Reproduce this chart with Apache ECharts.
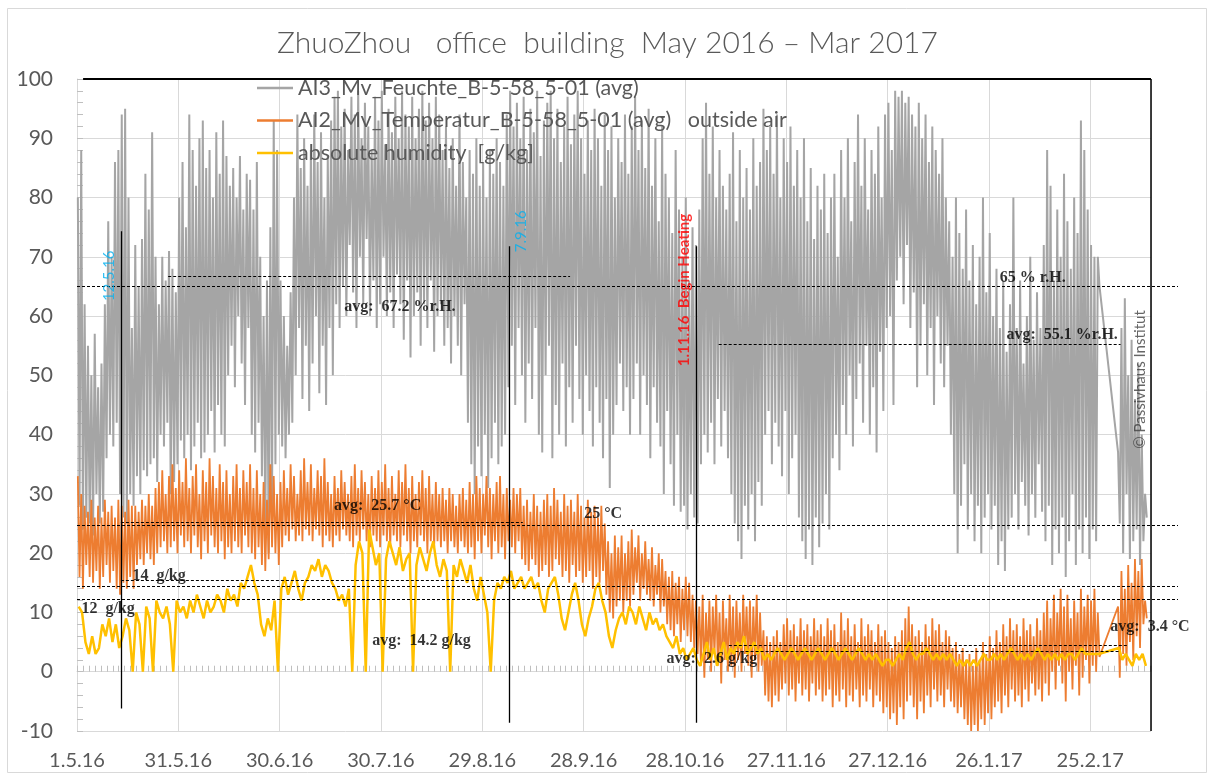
<!DOCTYPE html>
<html>
<head>
<meta charset="utf-8">
<script src="https://cdn.jsdelivr.net/npm/echarts/dist/echarts.min.js"></script>
<style>
  html, body { margin: 0; padding: 0; background: #fff; }
  #chart { width: 1215px; height: 780px; }
</style>
</head>
<body>
<div id="chart"></div>
<script>
// day 0 = 1.5.16, one hi / lo pair per day
var startDate = Date.UTC(2016, 4, 1);
var seriesNames = ['AI3_Mv_Feuchte_B-5-58_5-01 (avg)', 'AI2_Mv_Temperatur_B-5-58_5-01 (avg)   outside air', 'absolute humidity  [g/kg]'];

// relative humidity %
var rhHigh = [
  80,88,62,55,50,57,48,52,62,76,
  70,86,88,94,95,80,58,72,65,73,
  84,78,91,70,62,70,66,71,68,64,
  80,86,75,94,88,82,90,93,85,88,
  80,91,84,93,87,82,85,80,87,78,
  84,83,78,86,70,60,66,75,93,88,
  66,60,55,64,80,94,85,90,82,88,
  94,86,91,80,87,93,97,98,92,95,
  88,97,94,98,90,96,92,88,97,93,
  98,89,95,91,97,90,98,94,92,97,
  90,95,98,93,96,90,97,94,88,92,
  85,90,82,94,86,80,88,84,90,82,
  86,80,88,84,90,86,82,94,98,92,
  96,90,97,88,95,91,98,87,93,96,
  98,90,95,86,92,97,89,94,98,90,
  84,93,88,95,90,82,94,88,92,80,
  90,86,94,84,92,97,88,93,85,95,
  82,90,76,92,84,80,74,88,78,70,
  80,66,75,72,78,90,96,84,92,80,
  88,82,78,84,91,76,88,80,85,78,
  90,82,86,95,88,92,84,94,80,90,
  86,92,82,88,80,90,76,85,73,82,
  78,84,74,80,84,70,88,80,90,76,
  86,94,82,90,78,88,84,92,80,94,
  96,88,98,97,98,96,97,94,92,96,
  90,94,86,92,88,84,90,80,76,70,
  80,74,68,78,66,72,62,70,80,64,
  74,60,68,58,66,54,62,80,58,66,
  52,60,70,56,64,58,72,88,82,66,
  78,70,84,76,68,80,74,93,88,78,
  72,70,70,null,null,null,null,null,37,58,
  63,50,56,46,52,40,30
];
var rhLow = [
  28,24,26,25,23,30,25,27,36,40,
  38,42,30,26,25,30,28,33,30,34,
  33,35,36,32,40,38,42,30,32,35,
  39,36,40,34,38,42,36,37,40,44,
  37,45,40,38,50,55,48,60,52,45,
  58,40,37,42,33,24,20,28,35,40,
  38,36,40,42,50,58,46,55,44,52,
  60,47,55,45,58,50,62,58,65,60,
  72,64,58,70,62,73,60,66,58,62,
  70,60,64,58,67,62,56,66,53,60,
  64,55,62,58,66,54,60,62,55,58,
  52,60,55,50,62,42,35,30,38,33,
  40,31,36,42,35,38,40,48,55,45,
  58,50,42,52,46,58,40,37,50,55,
  36,45,40,52,38,48,42,55,46,40,
  50,44,38,48,42,36,46,31,40,45,
  52,44,48,40,46,52,40,50,45,36,
  48,42,38,30,44,35,28,40,27,28,
  24,30,26,25,35,40,37,42,35,46,
  38,44,36,30,25,22,19,28,24,30,
  22,32,28,40,44,35,42,38,33,44,
  30,36,40,26,22,19,24,18,26,21,
  25,30,24,36,40,34,45,40,50,38,
  46,52,42,55,40,48,37,54,44,58,
  60,45,66,70,62,72,58,64,48,55,
  62,50,58,45,60,52,48,55,40,30,
  20,28,35,24,30,22,28,20,26,30,
  24,28,18,22,17,24,26,30,24,32,
  28,23,30,26,35,27,22,28,18,24,
  20,26,16,22,30,18,24,20,26,19,
  24,22,65,null,null,null,null,null,25,20,
  30,19,22,24,18,22,26
];

// outside air temperature °C
var tHigh = [
  33,30,28,27,29,26,28,26,29,27,
  28,26,29,28,27,29,28,28,27,29,
  28,30,28,31,32,34,30,33,35,31,
  34,32,36,31,33,35,30,34,32,36,
  33,31,35,32,34,30,33,35,31,34,
  32,35,31,34,30,32,29,35,33,30,
  32,34,31,35,33,30,34,36,32,35,
  31,34,33,36,32,30,33,31,34,32,
  30,33,35,31,34,32,30,33,31,34,
  32,35,31,33,30,34,32,35,31,33,
  30,32,34,31,33,30,32,30,31,29,
  31,30,28,30,31,29,32,30,33,31,
  30,33,31,30,32,33,30,31,29,31,
  30,31,28,29,27,30,28,27,29,30,
  28,31,29,27,30,28,29,27,30,28,
  26,29,27,28,26,28,25,22,20,23,
  21,23,20,22,24,21,23,20,22,19,
  21,18,20,19,17,16,17,15,16,14,
  16,15,13,12,11,13,10,12,11,13,
  10,12,9,13,11,12,10,13,11,12,
  11,13,10,7,6,5,6,7,5,8,
  9,7,8,6,9,7,8,6,9,7,
  8,6,9,7,8,5,10,7,9,6,
  8,5,9,6,8,7,5,8,6,7,
  5,4,6,5,7,9,11,8,6,7,
  5,8,6,9,7,8,5,7,6,4,
  5,3,4,2,3,1,4,2,5,3,
  6,4,7,5,8,6,9,7,8,6,
  9,7,8,6,9,7,10,12,9,13,
  10,14,11,13,9,12,10,14,11,13,
  12,14,10,null,null,null,null,null,11,17,
  14,18,15,19,17,19,12
];
var tLow = [
  16,14,18,16,15,17,14,16,18,15,
  17,14,13,15,14,16,14,18,19,18,
  20,19,18,20,21,22,20,21,22,20,
  23,21,22,20,23,21,19,22,20,23,
  21,20,22,19,21,20,22,21,20,23,
  21,20,19,21,18,17,19,21,20,18,
  21,23,22,24,22,23,22,24,23,22,
  24,23,21,23,22,21,23,22,24,23,
  22,21,23,22,24,22,21,23,22,21,
  23,22,21,23,22,21,23,22,20,22,
  21,23,22,20,22,21,22,21,22,20,
  22,21,20,22,21,20,21,19,22,20,
  23,21,19,22,20,21,19,22,21,20,
  22,19,18,17,19,18,16,17,18,16,
  17,19,18,16,17,15,18,16,17,15,
  16,17,14,16,15,17,13,10,9,11,
  12,10,12,11,13,15,12,14,13,12,
  11,13,10,11,8,7,6,8,5,7,
  6,5,4,3,1,-1,2,0,3,1,
  -2,2,0,1,-1,2,0,3,1,-1,
  2,0,1,-4,-5,-6,-4,-5,-3,-2,
  -4,-3,-5,-2,-4,-3,-5,-2,-4,-3,
  -5,-4,-3,-6,-4,-5,-3,-6,-4,-5,
  -3,-6,-4,-5,-3,-6,-4,-5,-7,-6,
  -8,-7,-9,-6,-8,-5,-4,-6,-8,-5,
  -7,-4,-6,-3,-5,-4,-6,-3,-5,-6,
  -7,-6,-8,-9,-10,-9,-10,-8,-9,-7,
  -8,-6,-5,-7,-4,-6,-3,-5,-4,-6,
  -3,-5,-2,-4,-3,-5,-2,-4,0,-3,
  1,-2,-5,0,-3,1,-4,-1,2,-2,
  1,0,2.5,null,null,null,null,null,-1,3,
  1,5,2,6,4,8,9
];

// absolute humidity g/kg, one value per day
var absHum = [
  11,10,5,3,6,3,4,8,6,9,
  5,8,4,6,9,7,0,10,8,0,
  11,9,0,12,10,9,11,8,0,12,
  10,11,9,12,10,13,11,9,12,10,
  11,13,12,10,14,12,13,11,15,14,
  16,18,15,13,8,6,9,7,12,0,
  14,16,13,15,17,14,12,15,16,18,
  17,19,16,18,17,15,14,12,13,11,
  14,0,18,22,20,0,24,21,18,20,
  0,19,22,20,18,21,17,19,20,0,
  18,21,19,17,20,22,18,16,19,17,
  0,18,16,19,17,15,18,14,12,16,
  13,10,0,12,15,14,16,15,17,14,
  15,16,14,15,16,14,15,12,10,14,
  15,16,13,9,7,10,13,15,12,8,
  6,9,11,14,15,12,10,6,4,7,
  9,10,8,11,10,8,11,9,7,10,
  8,9,7,8,6,5,4,6,3,4,
  2,3,4,2,1,3,5,2,4,1,
  3,5,2,4,3,5,4,6,3,4,
  5,3,4,2,3,2,3,4,3,2,
  3,4,3,2,3,4,3,2,3,4,
  3,2,3,4,3,2,3,4,3,2,
  3,4,3,2,3,2,3,2,1,2,
  2,1,2,3,2,4,5,3,2,3,
  3,4,3,2,3,2,3,2,3,2,
  1,2,1,2,1,2,1,2,3,2,
  2,3,2,3,2,3,4,3,2,3,
  2,3,2,3,4,3,2,3,2,3,
  2,3,2,3,3,2,3,4,3,3,
  3,3,3,null,null,null,null,null,4,2,
  3,2,1,3,2,3,1
];

// reference lines (dashed): value, from day, to day
var refY  = [65, 66.8, 55.3, 24.7, 25.3, 15.5, 14.5, 12.2, 4.5, 3.4];
var refX0 = [0, 27, 190, 0, 13, 13, 0, 0, 193, 195];
var refX1 = [326, 146, 309, 326, 132, 132, 326, 326, 311, 309];
// event lines (solid)
var eventDay = [13, 128, 183.5];
var eventTop = [74.3, 71.8, 71.8];
var eventBottom = [-6.2, -8.6, -8.6];

// text notes
var noteText = ['12.5.16', '7.9.16', '1.11.16  Begin Heating', '\u00a9 Passivhaus Institut',
  'avg:  67.2 %r.H.', '65 % r.H.', 'avg:  55.1 %r.H.', 'avg:  25.7 \u00b0C', '25 \u00b0C',
  '14  g/kg', '12  g/kg', 'avg:  14.2 g/kg', 'avg:  2.6 g/kg', 'avg:  3.4 \u00b0C'];
var noteX = [9.5, 131.5, 179.8, 314.8, 95.6, 283, 291.7, 89, 155.8, 24.3, 9.2, 102, 188, 317.7];
var noteY = [66.8, 74.3, 64.4, 49.3, 61.5, 66.4, 56.8, 27.9, 26.6, 16.2, 10.6, 5.2, 2.1, 7.6];

var xMax = 318;
var xMaxNotes = 326;   // notes grid runs past the plot, same days per pixel

function zigzag(hi, lo) {
    var out = [];
    for (var i = 0; i < hi.length; i++) {
        if (hi[i] == null) continue;
        out.push([i + 0.25, hi[i]]);
        out.push([i + 0.75, lo[i]]);
    }
    return out;
}

function daily(vals) {
    var out = [];
    for (var i = 0; i < vals.length; i++) {
        if (vals[i] == null) continue;
        out.push([i + 0.5, vals[i]]);
    }
    return out;
}

function dateLabel(v) {
    var d = new Date(startDate + Math.round(v) * 86400000);
    return d.getUTCDate() + '.' + (d.getUTCMonth() + 1) + '.' + String(d.getUTCFullYear()).slice(2);
}

function noteStyle(i) {
    var s = {show: true, position: 'inside', color: '#000', fontFamily: 'Liberation Serif', fontWeight: 'bold', fontSize: 16};
    if (i < 2) { s = {show: true, position: 'inside', color: '#00B0F0', fontFamily: 'Lato', fontSize: 15, rotate: 90}; }
    if (i == 2) { s = {show: true, position: 'inside', color: '#FF0000', fontFamily: 'Lato', fontWeight: 'bold', fontSize: 15, rotate: 90}; }
    if (i == 3) { s = {show: true, position: 'inside', color: '#404040', fontFamily: 'Lato', fontSize: 15, rotate: 90}; }
    return s;
}

var marks = [];
for (var i = 0; i < refY.length; i++) {
    marks.push([{coord: [refX0[i], refY[i]]}, {coord: [refX1[i], refY[i]]}]);
}
for (var j = 0; j < eventDay.length; j++) {
    marks.push([{coord: [eventDay[j], eventBottom[j]], lineStyle: {type: 'solid', width: 1.3}},
                {coord: [eventDay[j], eventTop[j]]}]);
}
// top and right frame
marks.push([{coord: [1.8, 100], lineStyle: {type: 'solid', width: 2}}, {coord: [xMax, 100]}]);
marks.push([{coord: [xMax, -10], lineStyle: {type: 'solid', width: 1.5}}, {coord: [xMax, 100]}]);

var notes = [];
for (var k = 0; k < noteText.length; k++) {
    notes.push({name: noteText[k], value: [noteX[k], noteY[k]], label: noteStyle(k)});
}

var chart = echarts.init(document.getElementById('chart'));
var option = {
    backgroundColor: '#fff',
    animation: false,
    title: {
        text: 'ZhuoZhou   office  building  May 2016 \u2013 Mar 2017',
        left: 'center',
        top: 23,
        textStyle: {fontFamily: 'Lato', fontWeight: 300, fontSize: 30, color: '#595959'}
    },
    legend: {
        data: seriesNames,
        orient: 'vertical',
        left: 252,
        top: 72,
        icon: 'rect',
        itemWidth: 36,
        itemHeight: 2.5,
        itemGap: 10.5,
        textStyle: {fontFamily: 'Lato', fontSize: 21.5, color: '#595959', lineHeight: 20}
    },
    grid: [
        {left: 77, right: 64, top: 79, bottom: 49},
        {left: 77, right: 37, top: 79, bottom: 49}
    ],
    xAxis: [{
        type: 'value',
        min: 0,
        max: xMax,
        interval: 30,
        axisLine: {lineStyle: {color: '#D9D9D9'}},
        axisTick: {show: true, inside: true, length: 6, lineStyle: {color: '#BFBFBF'}},
        minorTick: {show: true, splitNumber: 17, length: 6, lineStyle: {color: '#BFBFBF'}},
        axisLabel: {formatter: dateLabel, showMaxLabel: false, color: '#595959', fontFamily: 'Lato', fontSize: 20, margin: 20},
        splitLine: {show: true, lineStyle: {color: '#D9D9D9'}}
    }, {
        gridIndex: 1, type: 'value', min: 0, max: xMaxNotes, show: false
    }],
    yAxis: [{
        type: 'value',
        min: -10,
        max: 100,
        interval: 10,
        axisLine: {show: true, lineStyle: {color: '#D9D9D9'}},
        axisTick: {show: true, inside: true, length: 6, lineStyle: {color: '#BFBFBF'}},
        minorTick: {show: true, splitNumber: 5, length: 6, lineStyle: {color: '#BFBFBF'}},
        axisLabel: {color: '#595959', fontFamily: 'Lato', fontSize: 21, margin: 24},
        splitLine: {show: true, lineStyle: {color: '#D9D9D9'}}
    }, {
        gridIndex: 1, type: 'value', min: -10, max: 100, show: false
    }],
    graphic: [{
        type: 'rect',
        shape: {x: 7.5, y: 8.5, width: 1199, height: 764},
        style: {fill: 'none', stroke: '#D9D9D9', lineWidth: 1},
        silent: true
    }],
    series: [
        {
            name: seriesNames[0], type: 'line', data: zigzag(rhHigh, rhLow),
            symbol: 'none', connectNulls: true,
            lineStyle: {color: '#A5A5A5', width: 2}, itemStyle: {color: '#A5A5A5'}
        },
        {
            name: seriesNames[1], type: 'line', data: zigzag(tHigh, tLow),
            symbol: 'none', connectNulls: true,
            lineStyle: {color: '#ED7D31', width: 1.8}, itemStyle: {color: '#ED7D31'}
        },
        {
            name: seriesNames[2], type: 'line', data: daily(absHum),
            symbol: 'none', connectNulls: true,
            lineStyle: {color: '#FFC000', width: 2.5}, itemStyle: {color: '#FFC000'}
        },
        {
            name: 'notes', type: 'scatter', data: notes,
            xAxisIndex: 1, yAxisIndex: 1,
            z: 10, zlevel: 1,
            symbolSize: 0, silent: true, clip: false,
            label: {show: true, formatter: function (p) { return p.name; }},
            labelLayout: {hideOverlap: false},
            markLine: {
                silent: true,
                symbol: ['none', 'none'],
                label: {show: false},
                lineStyle: {color: '#000', type: [3, 2], width: 1},
                data: marks
            }
        }
    ]
};
chart.setOption(option);
</script>
</body>
</html>
